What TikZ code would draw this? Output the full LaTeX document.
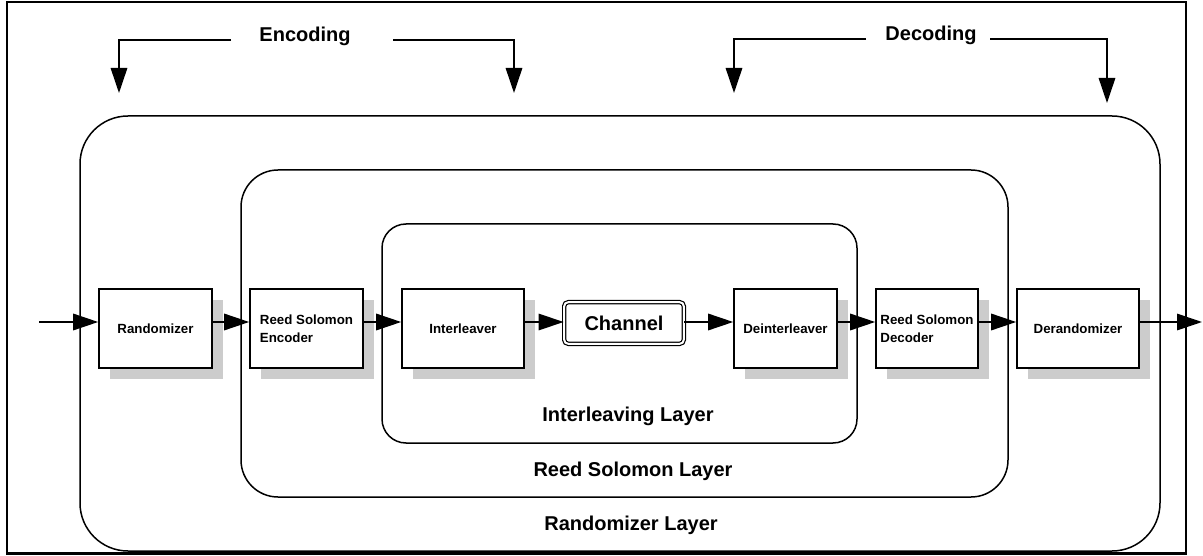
\documentclass[tikz,border=0pt]{standalone}
\usepackage{fontspec}
\setmainfont{Liberation Sans}
\usetikzlibrary{arrows.meta,shadows}
\definecolor{shadowgray}{RGB}{204,204,204}
\begin{document}
\begin{tikzpicture}[x=1pt,y=-1pt,
  box/.style={draw, line width=1.6pt, fill=white, align=left,
    font=\bfseries\fontsize{13.3}{18}\selectfont, minimum height=79pt, inner sep=0pt,
    drop shadow={shadow xshift=11pt, shadow yshift=-11pt, fill=shadowgray, opacity=1}},
  layerbox/.style={draw, line width=1.5pt, inner sep=0pt},
  lbl/.style={font=\bfseries\fontsize{20}{24}\selectfont, anchor=base},
  arr/.style={line width=1.5pt, -{Triangle[length=25pt,width=16.5pt]}},
]
\useasboundingbox (0,0) rectangle (1203,556);
% frame
\draw[line width=2.5pt] (7,2) rectangle (1186,553.5);
% layers
\node[layerbox, minimum width=1080pt, minimum height=435pt, rounded corners=48pt] (L1) at (620,333.5) {};
\node[layerbox, minimum width=767pt, minimum height=327pt, rounded corners=37pt] (L2) at (624.5,333.5) {};
\node[layerbox, minimum width=475pt, minimum height=219pt, rounded corners=24pt] (L3) at (619.5,333.5) {};
\node[lbl] (t3) at (628,421) {Interleaving Layer};
\node[lbl] (t2) at (633,476) {Reed Solomon Layer};
\node[lbl] (t1) at (631,530) {Randomizer Layer};
% boxes
\node[box, minimum width=113pt] (rand) at (155.5,328.5) {Randomizer};
\node[box, minimum width=113pt] (rse) at (306.5,328.5) {Reed Solomon\\Encoder};
\node[box, minimum width=122pt] (intl) at (463,328.5) {Interleaver};
\node[draw, double, double distance=2pt, line width=1.2pt, rounded corners=4pt,
  minimum width=119.6pt, minimum height=41.6pt, inner sep=0pt,
  font=\bfseries\fontsize{20}{24}\selectfont] (chan) at (624,323) {Channel};
\node[box, minimum width=103pt] (deint) at (785.5,328.5) {Deinterleaver};
\node[box, minimum width=102pt] (rsd) at (927,328.5) {Reed Solomon\\Decoder};
\node[box, minimum width=122pt] (derand) at (1078,328.5) {Derandomizer};
% data flow
\coordinate (in) at (39,322);
\coordinate (out) at (1202,322);
\draw[arr] (in) -- (rand.west |- in);
\draw[arr] (rand.east |- in) -- (rse.west |- in);
\draw[arr] (rse.east |- in) -- (intl.west |- in);
\draw[arr] (intl.east |- in) -- (chan.west |- in);
\draw[arr] (chan.east |- in) -- (deint.west |- in);
\draw[arr] (deint.east |- in) -- (rsd.west |- in);
\draw[arr] (rsd.east |- in) -- (derand.west |- in);
\draw[arr] (derand.east |- in) -- (out);
% top brackets
\node[lbl] (enc) at (305,42) {Encoding};
\node[lbl] (dec) at (931,41) {Decoding};
\coordinate (ea) at (231,40); \coordinate (ea2) at (119,93);
\coordinate (eb) at (393,40); \coordinate (eb2) at (514,93);
\coordinate (da) at (866,39); \coordinate (da2) at (734,93);
\coordinate (db) at (990,39); \coordinate (db2) at (1107,103);
\draw[arr] (ea) -| (ea2);
\draw[arr] (eb) -| (eb2);
\draw[arr] (da) -| (da2);
\draw[arr] (db) -| (db2);
\end{tikzpicture}
\end{document}
